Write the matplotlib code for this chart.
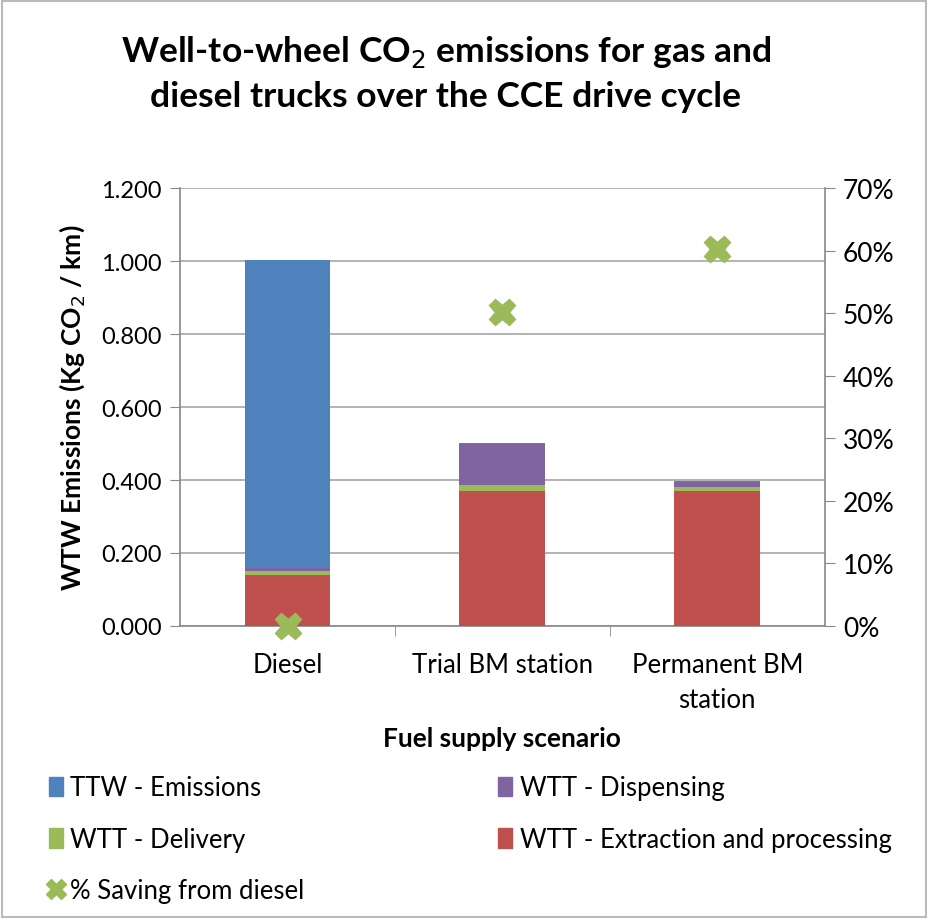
import matplotlib
matplotlib.use("Agg")
import matplotlib.pyplot as plt
import numpy as np
from matplotlib.lines import Line2D
from matplotlib.patches import Patch, Rectangle

plt.rcParams['font.family'] = ['Lato', 'DejaVu Sans']

categories = ["Diesel", "Trial BM station", "Permanent BM\nstation"]
wtt_extraction = [0.140, 0.371, 0.371]
wtt_delivery = [0.010, 0.016, 0.009]
wtt_dispensing = [0.010, 0.112, 0.015]
ttw_emissions = [0.842, 0.002, 0.002]
saving_pct = [0.0, 50.2, 60.3]

c_red = "#C0504D"
c_green = "#9BBB59"
c_purple = "#8064A2"
c_blue = "#4F81BD"

fig = plt.figure(figsize=(9.33, 9.20), dpi=100)
ax = fig.add_axes([0.193, 0.3185, 0.691, 0.476])
x = np.arange(len(categories))
w = 0.4
b = np.zeros(3)
ax.bar(x, wtt_extraction, w, bottom=b, color=c_red, zorder=3); b += wtt_extraction
ax.bar(x, wtt_delivery, w, bottom=b, color=c_green, zorder=3); b += wtt_delivery
ax.bar(x, wtt_dispensing, w, bottom=b, color=c_purple, zorder=3); b += wtt_dispensing
ax.bar(x, ttw_emissions, w, bottom=b, color=c_blue, zorder=3)

ax.set_xlim(-0.5, 2.5)
ax.set_ylim(0, 1.2)
ax.set_yticks(np.arange(0, 1.21, 0.2))
ax.set_yticklabels([f"{v:.3f}" for v in np.arange(0, 1.21, 0.2)], fontsize=17)
ax.yaxis.grid(True, color="#A6A6A6", linewidth=1.2, zorder=0)
ax.set_xticks(x)
ax.set_xticklabels(categories, fontsize=18.5, linespacing=1.5)
ax.set_xticks([0.5, 1.5], minor=True)
ax.tick_params(axis='x', which='major', length=0, pad=19)
ax.tick_params(axis='x', which='minor', length=7, color="#888888")
ax.tick_params(axis='y', length=7, color="#888888", pad=6)
for s in ['top', 'right']:
    ax.spines[s].set_visible(False)
for s in ['left', 'bottom']:
    ax.spines[s].set_color("#888888")
    ax.spines[s].set_linewidth(1.2)
ax.set_ylabel("WTW Emissions (Kg CO$_2$ / km)", fontsize=19, fontweight='bold', labelpad=10)
ax.set_xlabel("Fuel supply scenario", fontsize=19, fontweight='bold', labelpad=10)

ax2 = ax.twinx()
ax2.set_ylim(0, 70)
ax2.set_yticks(np.arange(0, 71, 10))
ax2.set_yticklabels([f"{v}%" for v in range(0, 71, 10)], fontsize=19)
ax2.tick_params(axis='y', length=7, color="#888888", pad=6)
for s in ['top', 'left', 'bottom']:
    ax2.spines[s].set_visible(False)
ax2.spines['right'].set_color("#888888")
ax2.spines['right'].set_linewidth(1.2)
ax2.plot(x, saving_pct, linestyle='none', marker='X', markersize=19,
         color=c_green, markeredgecolor=c_green, zorder=5, clip_on=False)

fig.text(0.478, 0.920, "Well-to-wheel CO$_2$ emissions for gas and\ndiesel trucks over the CCE drive cycle",
         ha='center', va='center', fontsize=25.5, fontweight='bold', linespacing=1.4)

h_ttw = Patch(color=c_blue, label="TTW - Emissions")
h_disp = Patch(color=c_purple, label="WTT - Dispensing")
h_del = Patch(color=c_green, label="WTT - Delivery")
h_ext = Patch(color=c_red, label="WTT - Extraction and processing")
h_sav = Line2D([], [], linestyle='none', marker='X', markersize=14, color=c_green, label="% Saving from diesel")
common = dict(frameon=False, fontsize=18.5, handlelength=0.55, handleheight=0.8, handletextpad=0.3,
              labelspacing=1.02, borderaxespad=0, borderpad=0)
leg1 = fig.legend(handles=[h_ttw, h_del, h_sav], loc='upper left', bbox_to_anchor=(0.052, 0.156), **common)
leg2 = fig.legend(handles=[h_disp, h_ext], loc='upper left', bbox_to_anchor=(0.534, 0.156), **common)

fig.patches.append(Rectangle((0.002, 0.002), 0.99, 0.996, transform=fig.transFigure,
                             fill=False, edgecolor="#BBBBBB", linewidth=1.5))

fig.savefig("out.png", dpi=100)
